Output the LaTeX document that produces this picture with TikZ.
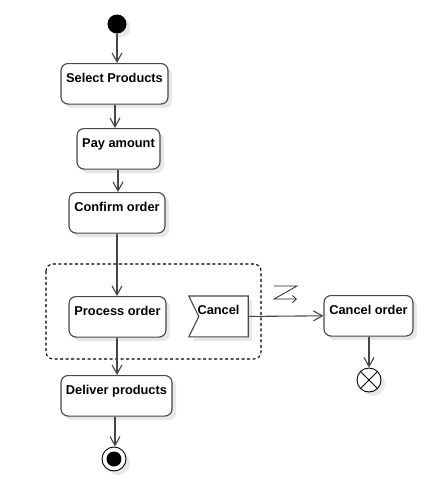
\documentclass[tikz,border=0pt]{standalone}
\usepackage{fontspec}
\setmainfont{Liberation Sans}
\usetikzlibrary{arrows.meta,shadows,calc}
\definecolor{lc}{HTML}{474747}
\definecolor{shd}{HTML}{E8E8E8}
\tikzset{
  shd/.style={drop shadow={shadow xshift=4pt, shadow yshift=-4pt, fill=shd, opacity=1}},
  txt/.style={inner xsep=0pt, inner ysep=0pt, text height=18.6pt, text depth=21.9pt,
    font=\bfseries\fontsize{12.8}{15}\selectfont},
  act/.style={txt, draw=lc, line width=1.1pt, rounded corners=7pt, fill=white, shd},
  arr/.style={draw=lc, line width=1.1pt, -{Straight Barb[length=9pt,width=10pt]}},
}
\begin{document}
\begin{tikzpicture}[x=1pt,y=-1pt]
\useasboundingbox (0,0) rectangle (433,491);
% interruptible region
\draw[black, line width=1.05pt, dash pattern=on 3pt off 2.5pt, rounded corners=7pt] (46,264) rectangle (261,359);
% nodes
\node[circle, fill=black, inner sep=0pt, minimum size=19pt, shd] (init) at (117,24) {};
\node[act, minimum width=107pt, anchor=north] (sel) at (114.5,63) {Select Products};
\node[act, minimum width=83pt, anchor=north] (pay) at (118.5,128) {Pay amount};
\node[act, minimum width=96pt, anchor=north] (conf) at (117,192) {Confirm order};
\node[act, minimum width=97pt, anchor=north] (proc) at (117.5,296) {Process order};
\node[txt, minimum width=59pt, anchor=north] (cancel) at (218.5,296) {};
\path[draw=lc, line width=1.1pt, fill=white, shd] (cancel.north west) -- (cancel.north east) -- (cancel.south east) -- (cancel.south west) -- ($(cancel.west)+(10,0)$) -- cycle;
\node[txt, minimum width=59pt, anchor=north] (canceltxt) at (cancel.north) {Cancel};
\node[act, minimum width=89pt, anchor=north] (corder) at (368.5,295) {Cancel order};
\node[act, minimum width=111pt, anchor=north] (deliv) at (116.5,375) {Deliver products};
\node[circle, draw=black, line width=0.9pt, fill=white, inner sep=0pt, minimum size=24pt, shd] (ff) at (369,380) {};
\draw[black, line width=0.9pt] (ff.north west) -- (ff.south east) (ff.north east) -- (ff.south west);
\node[circle, draw=black, line width=0.9pt, fill=white, inner sep=0pt, minimum size=24pt, shd] (fin) at (114,459) {};
\node[circle, fill=black, inner sep=0pt, minimum size=15pt] (finin) at (fin) {};
% interrupt symbol
\coordinate (z1) at (274,286);
\coordinate (z2) at (297,286);
\coordinate (z3) at (274,299);
\coordinate (z4) at (297,299);
\draw[black!85, line width=0.8pt, -{Straight Barb[length=4pt,width=7pt]}] (z1) -- (z2) -- (z3) -- (z4);
% edges
\draw[arr] (init) -- (init |- sel.north);
\draw[arr] (sel.south -| 115,0) -- (pay.north -| 115,0);
\draw[arr] (pay.south -| 118,0) -- (conf.north -| 118,0);
\draw[arr] (conf.south) -- (conf.south |- proc.north);
\draw[arr] (proc.south -| 117,0) -- (deliv.north -| 117,0);
\draw[arr] (deliv.south -| 115,0) -- (fin.north -| 115,0);
\draw[arr] (cancel.east) -- (corder.west);
\draw[arr] (corder.south -| ff) -- (ff.north);
\end{tikzpicture}
\end{document}
